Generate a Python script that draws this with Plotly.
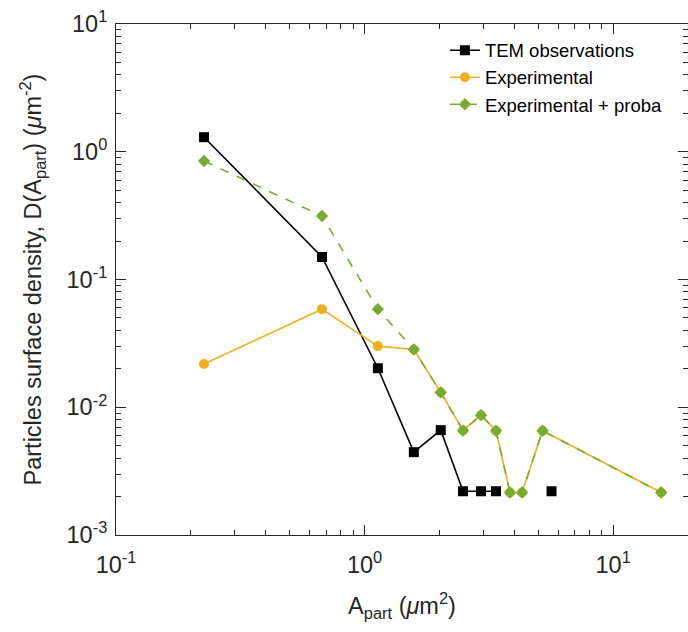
import plotly.graph_objects as go
import numpy as np

# ---- data ----
x_tem = [0.226, 0.674, 1.131, 1.578, 2.025, 2.489, 2.94, 3.378, 3.845, 4.30, 5.65]
y_tem = [1.30, 0.150, 0.0202, 0.00445, 0.00662, 0.0022, 0.0022, 0.0022, None, None, 0.0022]

x_exp = [0.226, 0.674, 1.131, 1.578, 2.025, 2.489, 2.94, 3.378, 3.845, 4.30, 5.20, 15.6]
y_exp = [0.0218, 0.0586, 0.0301, 0.0283, 0.01306, 0.00658, 0.00867, 0.00655, 0.00215, 0.00215, 0.00655, 0.00215]

x_prob = [0.226, 0.674, 1.131, 1.578, 2.025, 2.489, 2.94, 3.378, 3.845, 4.30, 5.20, 15.6]
y_prob = [0.846, 0.314, 0.0586, 0.0283, 0.01306, 0.00658, 0.00867, 0.00655, 0.00215, 0.00215, 0.00655, 0.00215]

x_major = [0.1, 1, 10]
x_major_text = ["10<sup>-1</sup>", "10<sup>0</sup>", "10<sup>1</sup>"]
y_major = [0.001, 0.01, 0.1, 1, 10]
y_major_text = ["10<sup>-3</sup>", "10<sup>-2</sup>", "10<sup>-1</sup>", "10<sup>0</sup>", "10<sup>1</sup>"]

FONT = "Liberation Sans, Arial, sans-serif"
AX = "#262626"

fig = go.Figure()
fig.add_trace(go.Scatter(x=x_tem, y=y_tem, mode="lines+markers", name="TEM observations",
                         line=dict(color="#000000", width=1.6),
                         marker=dict(symbol="square", size=10, color="#000000"),
                         connectgaps=False))
fig.add_trace(go.Scatter(x=x_exp, y=y_exp, mode="lines+markers", name="Experimental",
                         line=dict(color="#EDB120", width=1.6),
                         marker=dict(symbol="circle", size=10, color="#EDB120")))
fig.add_trace(go.Scatter(x=x_prob, y=y_prob, mode="lines+markers", name="Experimental + proba",
                         line=dict(color="#77AC30", width=1.6, dash="dash"),
                         marker=dict(symbol="diamond", size=9.5, color="#77AC30")))

x_minor = [m * 10.0 ** k for k in (-1, 0, 1) for m in range(2, 10) if m * 10.0 ** k <= 20]
y_minor = [m * 10.0 ** k for k in (-3, -2, -1, 0) for m in range(2, 10)]

fig.update_layout(
    width=688, height=632,
    margin=dict(l=116, r=0, t=24, b=97),
    paper_bgcolor="white", plot_bgcolor="white",
    font=dict(family=FONT, color=AX),
    showlegend=True,
    legend=dict(x=0.575, y=0.985, xanchor="left", yanchor="top",
                bgcolor="rgba(255,255,255,0)", borderwidth=0,
                font=dict(size=18.5, family=FONT, color="#000000"),
                tracegroupgap=0),
    xaxis=dict(type="log", range=[-1, np.log10(20)],
               tickmode="array", tickvals=x_major, ticktext=x_major_text,
               ticks="inside", ticklen=10, tickwidth=1, tickcolor=AX,
               ticklabelstandoff=9,
               minor=dict(tickmode="array", tickvals=x_minor, ticks="inside", ticklen=5,
                          tickwidth=1, tickcolor=AX, showgrid=False),
               showline=True, linecolor=AX, linewidth=1, mirror="ticks",
               showgrid=False, zeroline=False,
               tickfont=dict(size=23.5, family=FONT, color=AX),
               title=dict(text="A<sub>part</sub> (<i>μ</i>m<sup>2</sup>)",
                          font=dict(size=23.5, family=FONT, color=AX), standoff=20)),
    yaxis=dict(type="log", range=[-3, 1],
               tickmode="array", tickvals=y_major, ticktext=y_major_text,
               ticks="inside", ticklen=10, tickwidth=1, tickcolor=AX,
               ticklabelstandoff=3,
               minor=dict(tickmode="array", tickvals=y_minor, ticks="inside", ticklen=5,
                          tickwidth=1, tickcolor=AX, showgrid=False),
               showline=True, linecolor=AX, linewidth=1, mirror="ticks",
               showgrid=False, zeroline=False,
               tickfont=dict(size=23.5, family=FONT, color=AX),
               title=dict(text="Particles surface density, D(A<sub>part</sub>) (<i>μ</i>m<sup>-2</sup>)",
                          font=dict(size=23.5, family=FONT, color=AX), standoff=18)),
)

fig.write_html("out.html")
